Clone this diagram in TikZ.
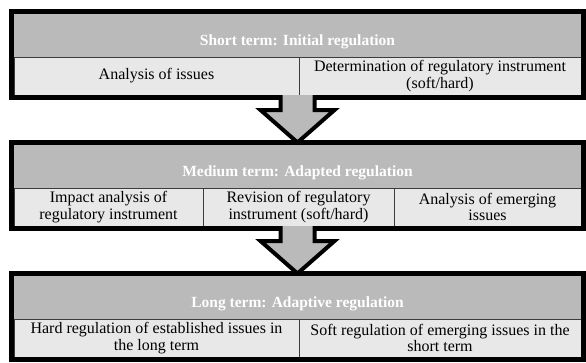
\documentclass[tikz,border=0pt]{standalone}
\usepackage{fontspec}
\setmainfont{Liberation Serif}
\definecolor{hdgray}{RGB}{186,186,186}
\definecolor{cellgray}{RGB}{231,232,231}
\definecolor{rulegray}{RGB}{60,60,60}
\usetikzlibrary{positioning,fit}

\begin{document}
\begin{tikzpicture}[x=1pt,y=-1pt,
    every node/.style={inner sep=0pt,outer sep=0pt},
    header/.style={fill=hdgray,text=white,anchor=north west,minimum width=567pt,minimum height=43pt,
        text height=24pt,font=\fontsize{15.5}{16}\selectfont\bfseries},
    cell/.style={fill=cellgray,draw=rulegray,line width=1pt,align=center,minimum height=38pt,
        font=\fontsize{16}{16.5}\selectfont},
    every fit/.style={draw=black,line width=5pt,inner sep=2.5pt},
    bigarrow/.style={fill=hdgray,draw=black,line width=4pt,miter limit=10}
    ]
    \useasboundingbox (0,0) rectangle (586,362);

    % short term
    \node (hd1) [header] at (14,14) {Short term: Initial regulation};
    \node (c11) [cell,minimum width=285pt,below right=0pt and 0pt of hd1.south west] {Analysis of issues};
    \node (c12) [cell,minimum width=282pt,right=0pt of c11] {Determination of regulatory instrument\\(soft/hard)};
    \node (f1) [fit=(hd1)(c11)(c12)] {};

    % medium term
    \node (hd2) [header,below=47.5pt of f1.south] {Medium term: Adapted regulation};
    \node (c21) [cell,minimum width=189pt,below right=0pt and 0pt of hd2.south west] {Impact analysis of\\regulatory instrument};
    \node (c22) [cell,minimum width=191pt,right=0pt of c21] {Revision of regulatory\\instrument (soft/hard)};
    \node (c23) [cell,minimum width=187pt,right=0pt of c22] {Analysis of emerging\\issues};
    \node (f2) [fit=(hd2)(c21)(c22)(c23)] {};

    % long term
    \node (hd3) [header,below=47.5pt of f2.south] {Long term: Adaptive regulation};
    \node (c31) [cell,minimum width=285pt,below right=0pt and 0pt of hd3.south west] {Hard regulation of established issues in\\the long term};
    \node (c32) [cell,minimum width=282pt,right=0pt of c31] {Soft regulation of emerging issues in the\\short term};
    \node (f3) [fit=(hd3)(c31)(c32)] {};

    % the arrows
    \draw[bigarrow] ([xshift=-17pt,yshift=2.5pt]f1.south) -- ++(0,15) -- ++(-20,0) -- (f2.north)
        -- ++(37,-32.5) -- ++(-20,0) -- ++(0,-15);
    \draw[bigarrow] ([xshift=-17pt,yshift=2.5pt]f2.south) -- ++(0,15) -- ++(-20,0) -- (f3.north)
        -- ++(37,-32.5) -- ++(-20,0) -- ++(0,-15);
\end{tikzpicture}
\end{document}
